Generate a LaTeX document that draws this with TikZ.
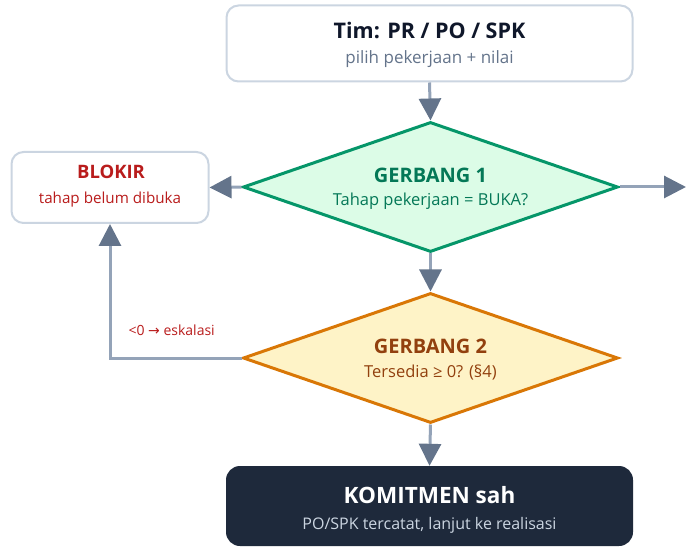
\documentclass[tikz,border=0pt]{standalone}
\usepackage{fontspec}
\setmainfont{Open Sans}
\newfontfamily\symfont{DejaVu Sans}
\usetikzlibrary{shapes.geometric,arrows.meta}
\definecolor{boxline}{HTML}{CBD5E1}
\definecolor{conn}{HTML}{94A3B8}
\definecolor{tip}{HTML}{64748B}
\definecolor{subgray}{HTML}{64748B}
\definecolor{titledark}{HTML}{0F172A}
\definecolor{gfill}{HTML}{DCFCE7}
\definecolor{gline}{HTML}{059669}
\definecolor{gtext}{HTML}{047857}
\definecolor{yfill}{HTML}{FEF3C7}
\definecolor{yline}{HTML}{D97706}
\definecolor{ytext}{HTML}{92400E}
\definecolor{rtext}{HTML}{B91C1C}
\definecolor{dfill}{HTML}{1E293B}
\definecolor{dsub}{HTML}{CBD5E1}
\tikzset{
  lightbox/.style={draw=boxline, line width=2pt, fill=white, rounded corners=12pt},
  gate/.style={diamond, line width=3pt, inner sep=0pt},
  conn/.style={draw=conn, line width=3pt, -{Triangle[width=22pt,length=22pt,fill=tip,color=tip]}},
  ttl/.style={font=\bfseries\fontsize{21.5}{25}\selectfont},
  gttl/.style={font=\bfseries\fontsize{20}{23}\selectfont},
  sub/.style={font=\fontsize{16.5}{20}\selectfont},
}
\begin{document}
\begin{tikzpicture}[x=1pt,y=-1pt]
\useasboundingbox (0,0) rectangle (691,548);
% top box
\node[lightbox, minimum width=406pt, minimum height=76pt] (top) at (429.5,43.5) {};
\node[ttl, text=titledark] (toptitle) at (429.5,30) {Tim: PR / PO / SPK};
\node[sub, text=subgray, font=\fontsize{17}{20}\selectfont] (topsub) at (429.5,59) {pilih pekerjaan + nilai};
% gate 1
\node[gate, draw=gline, fill=gfill, minimum width=375pt, minimum height=130pt] (g1) at (430.5,187) {};
\node[gttl, text=gtext] (g1title) at (430.5,175) {GERBANG 1};
\node[sub, text=gtext] (g1sub) at (430.5,201) {Tahap pekerjaan = BUKA?};
% blokir
\node[lightbox, minimum width=197pt, minimum height=71pt] (blok) at (110,187.5) {};
\node[text=rtext, font=\bfseries\fontsize{18.5}{22}\selectfont] (bloktitle) at (111,172) {BLOKIR};
\node[text=rtext, font=\fontsize{15.2}{18}\selectfont] (bloksub) at (110,200) {tahap belum dibuka};
% gate 2
\node[gate, draw=yline, fill=yfill, minimum width=375pt, minimum height=130pt] (g2) at (430.5,358) {};
\node[gttl, text=ytext] (g2title) at (430.5,346) {GERBANG 2};
\node[sub, text=ytext] (g2sub) at (430.5,372) {Tersedia ≥ 0? (§4)};
% komitmen
\node[fill=dfill, rounded corners=14pt, minimum width=407pt, minimum height=80pt] (kom) at (429.5,506) {};
\node[text=white, font=\bfseries\fontsize{22.5}{26}\selectfont] (komtitle) at (429.5,495) {KOMITMEN sah};
\node[sub, text=dsub, font=\fontsize{16}{19}\selectfont] (komsub) at (429.5,525) {PO/SPK tercatat, lanjut ke realisasi};
% free ends
\coordinate (exit) at (686,187);
\coordinate (corner) at (110,358);
% connectors
\draw[conn] (top.south) -- (g1.north);
\draw[conn] (g1.west) -- (blok.east);
\draw[conn] (g1.east) -- (exit);
\draw[conn] (g1.south) -- (g2.north);
\draw[conn] (g2.south) -- (kom.north);
\draw[conn] (g2.west) -- (corner) -- (blok.south);
\node[text=rtext, font=\fontsize{14}{17}\selectfont, anchor=west] (esk) at (125,330) {<0 {\symfont →} eskalasi};
\end{tikzpicture}
\end{document}
